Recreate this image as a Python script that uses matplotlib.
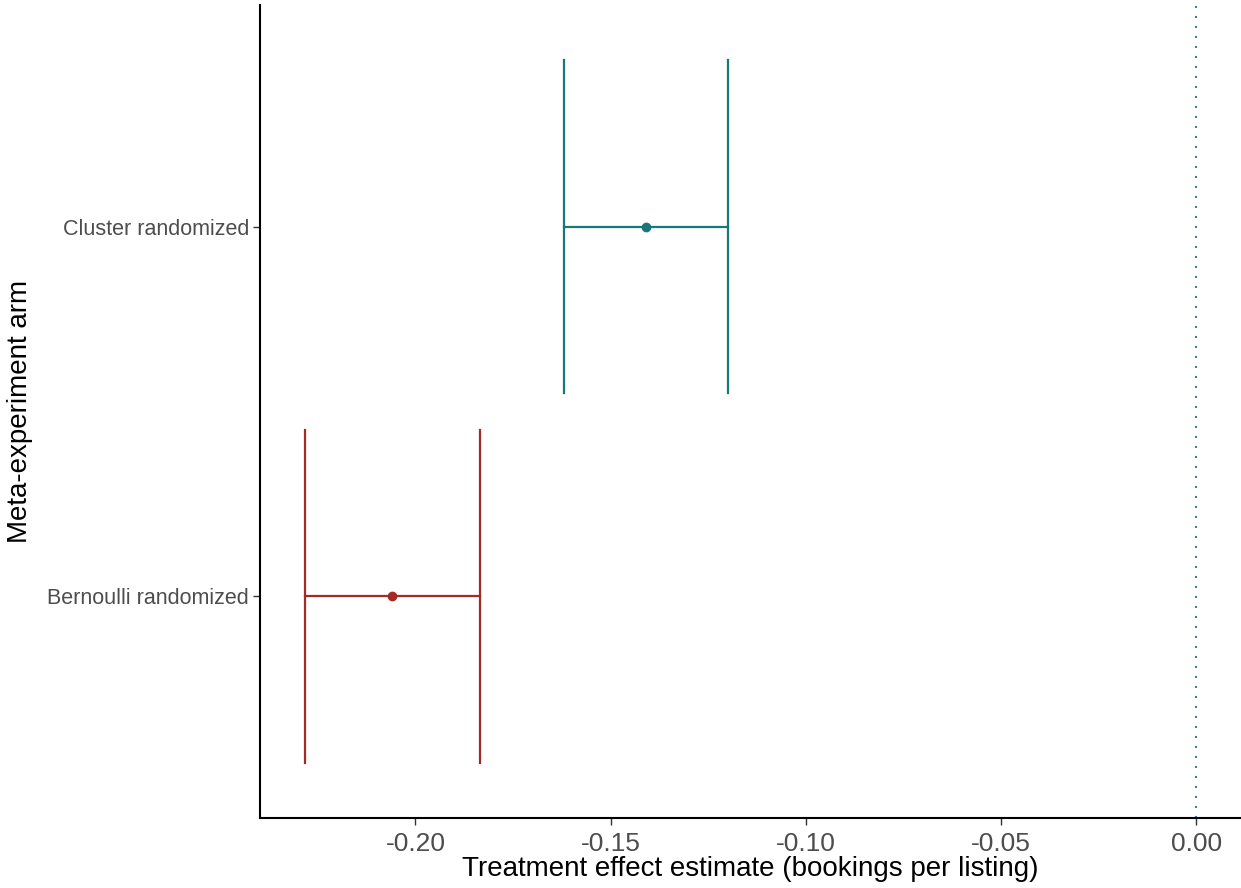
import numpy as np
import matplotlib
matplotlib.use('Agg')
import matplotlib.pyplot as plt

# estimates
arms = ['Bernoulli randomized', 'Cluster randomized']
estimate = [-0.2059, -0.1409]
ci_low = [-0.2284, -0.1619]
ci_high = [-0.1836, -0.1200]
arm_colors = ['#A32A25', '#19767A']
x_ticks = [-0.20, -0.15, -0.10, -0.05, 0.00]

plt.rcParams['font.family'] = ['Liberation Sans', 'DejaVu Sans']

fig = plt.figure(figsize=(12.41, 8.88), dpi=100)
ax = fig.add_axes([260 / 1241, 70 / 888, 981 / 1241, 813 / 888])

ypos = np.arange(1, len(arms) + 1)
for i in range(len(arms)):
    c = arm_colors[i]
    y = ypos[i]
    ax.plot([ci_low[i], ci_high[i]], [y, y], color=c, lw=1.6)
    ax.plot([ci_low[i], ci_low[i]], [y - 0.45, y + 0.45], color=c, lw=1.6)
    ax.plot([ci_high[i], ci_high[i]], [y - 0.45, y + 0.45], color=c, lw=1.6)
    ax.plot(estimate[i], y, 'o', color=c, ms=6)

ax.axvline(0, color='#3A7FA0', lw=1.5, ls=(0, (1, 3.8)))

xmin = min(ci_low)
span = 0 - xmin
ax.set_xlim(xmin - 0.05 * span, 0 + 0.05 * span)
ax.set_ylim(0.4, 2.6)

ax.set_xticks(x_ticks)
ax.set_xticklabels(['%.2f' % t for t in x_ticks])
ax.set_yticks(ypos)
ax.set_yticklabels(arms)

for s in ['top', 'right']:
    ax.spines[s].set_visible(False)
for s in ['left', 'bottom']:
    ax.spines[s].set_linewidth(1.5)
ax.tick_params(axis='x', labelsize=19, length=5, width=1, pad=5)
ax.tick_params(axis='y', labelsize=15.5, length=5, width=1, pad=3)
ax.tick_params(colors='#333333', which='both', labelcolor='#4d4d4d')

ax.set_xlabel('Treatment effect estimate (bookings per listing)', fontsize=20, labelpad=0)
ax.set_ylabel('Meta-experiment arm', fontsize=20, labelpad=10)

fig.savefig('out.png', dpi=100)
